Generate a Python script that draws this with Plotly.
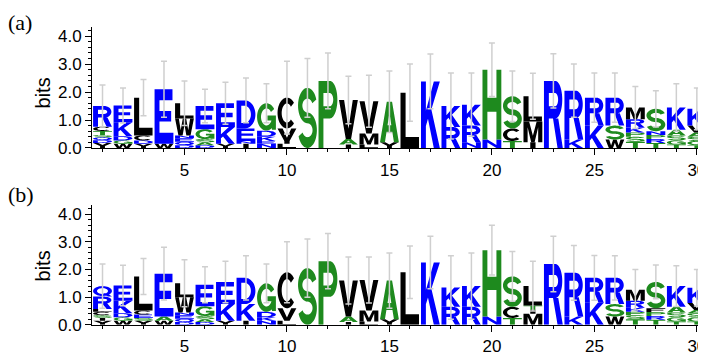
import numpy as np
import plotly.graph_objects as go

# ---------------- data ----------------
positions = list(range(1, 31))

letters_a = ["YDQSTCR", "WGDKE", "YDCL", "WE", "DQENWL", "DASGE", "YKE", "INED", "NEKDG", "LIVC",
             "S", "P", "IAV", "LMV", "YA", "L", "K", "RK", "NRK", "NH",
             "TCS", "IML", "R", "KR", "KR", "WSR", "TSPKRM", "TRPNS", "TGSAK", "TGSAVK"]
heights_a = [[.18, .1, .1, .08, .15, .15, .74], [.15, .12, .15, .5, .6], [.15, .12, .18, 1.35], [.15, 1.95],
             [.1, .12, .13, .1, .6, .55], [.1, .1, .12, .35, .83], [.15, .6, .85], [.15, .1, .45, 1.0],
             [.15, .1, .15, .22, .98], [.15, .1, .45, 1.1],
             [2.15], [2.4], [.12, .2, 1.4], [.12, .4, 1.15], [.2, 1.45], [1.98], [2.38], [.75, .75],
             [.2, .6, .75], [.3, 2.5],
             [.25, .45, 1.15], [.2, .75, .9], [2.4], [.3, 1.75], [.8, 1.0], [.3, .5, 1.0],
             [.22, .18, .15, .18, .3, .42], [.18, .14, .14, .14, .8], [.12, .15, .18, .2, .8],
             [.1, .15, .15, .15, .25, .6]]
errtop_a = [2.25, 2.15, 2.45, 3.1, 2.4, 2.1, 2.35, 2.5, 2.3, 3.1,
            3.2, 3.4, 2.57, 2.6, 2.75, 3.0, 3.36, 2.68, 2.68, 3.76,
            2.75, 2.67, 3.37, 3.0, 2.68, 2.68, 2.2, 2.05, 2.3, 2.15]

letters_b = ["YISCLRQ", "WGDKE", "YSECL", "WAE", "DQENWL", "DASGE", "YKE", "IKD", "NKDG", "LVC",
             "S", "P", "IAV", "LMV", "YA", "L", "K", "RK", "RK", "NH",
             "TCS", "MITL", "R", "KR", "KR", "WSR", "TSPKRM", "TRPFS", "TGSAK", "TGSAVK"]
heights_b = [[.15, .1, .1, .12, .1, .45, .38], [.15, .12, .15, .45, .55], [.15, .1, .12, .15, 1.23], [.15, .15, 1.55],
             [.1, .12, .13, .1, .55, .5], [.1, .1, .12, .35, .78], [.15, .6, .8], [.15, .6, .95],
             [.15, .12, .2, 1.03], [.15, .45, 1.3],
             [2.05], [2.3], [.1, .2, 1.3], [.12, .4, 1.1], [.2, 1.4], [1.9], [2.25], [.65, .7],
             [.65, .75], [.3, 2.4],
             [.25, .4, 1.1], [.4, .15, .15, .7], [2.2], [.3, 1.58], [.8, .9], [.3, .45, .95],
             [.2, .15, .12, .15, .25, .4], [.18, .14, .14, .14, .95], [.12, .15, .18, .2, .75],
             [.12, .15, .15, .12, .25, .55]]
errtop_b = [2.2, 2.15, 2.4, 2.8, 2.35, 2.1, 2.3, 2.5, 2.2, 3.0,
            3.1, 3.3, 2.45, 2.45, 2.6, 2.85, 3.2, 2.5, 2.6, 3.6,
            2.65, 2.3, 3.2, 2.87, 2.51, 2.5, 2.0, 2.16, 2.14, 2.0]

y_tick_vals = [0, 1, 2, 3, 4]
y_tick_text = ["0.0", "1.0", "2.0", "3.0", "4.0"]
x_tick_vals = [5, 10, 15, 20, 25, 30]

# ---------------- glyph outlines (unit box) ----------------
def arc(cx, cy, rx, ry, a0, a1, n=28):
    t = np.radians(np.linspace(a0, a1, n))
    return [(cx + rx * np.cos(u), cy + ry * np.sin(u)) for u in t]

def ring_arc(cx, cy, rxo, ryo, rxi, ryi, a0, a1, n=28):
    return arc(cx, cy, rxo, ryo, a0, a1, n) + arc(cx, cy, rxi, ryi, a1, a0, n)

def rect(x0, y0, x1, y1):
    return [(x0, y0), (x1, y0), (x1, y1), (x0, y1)]

def bowl(rx):
    outer = [(0, 0), (0, 1), (0.6, 1)] + arc(0.6, 0.72, rx, 0.28, 90, -90) + [(0.26, 0.44), (0.26, 0)]
    hole = [(0.26, 0.62), (0.26, 0.82), (0.58, 0.82)] + arc(0.58, 0.72, rx - 0.2, 0.10, 90, -90)
    return outer, hole

P_out, P_hole = bowl(0.4)
R_out, R_hole = bowl(0.37)

GLYPHS = {
    "A": [([(0, 0), (0.36, 1), (0.64, 1), (1, 0), (0.74, 0), (0.66, 0.24), (0.34, 0.24), (0.26, 0)], 0),
          ([(0.40, 0.42), (0.60, 0.42), (0.5, 0.74)], 1)],
    "C": [(ring_arc(0.5, 0.5, 0.5, 0.5, 0.28, 0.31, 42, 318, 40), 0)],
    "D": [([(0, 0), (0, 1), (0.45, 1)] + arc(0.45, 0.5, 0.55, 0.5, 90, -90), 0),
          ([(0.25, 0.19), (0.25, 0.81), (0.43, 0.81)] + arc(0.43, 0.5, 0.33, 0.31, 90, -90), 1)],
    "E": [([(0, 0), (0, 1), (0.95, 1), (0.95, 0.8), (0.26, 0.8), (0.26, 0.6), (0.88, 0.6), (0.88, 0.41),
            (0.26, 0.41), (0.26, 0.2), (1, 0.2), (1, 0)], 0)],
    "F": [([(0, 0), (0, 1), (1, 1), (1, 0.8), (0.26, 0.8), (0.26, 0.58), (0.9, 0.58), (0.9, 0.39),
            (0.26, 0.39), (0.26, 0)], 0)],
    "G": [(ring_arc(0.5, 0.5, 0.5, 0.5, 0.29, 0.31, 35, 355, 40), 0),
          (rect(0.55, 0.37, 1.0, 0.55), 0), (rect(0.79, 0.03, 1.0, 0.55), 0)],
    "H": [([(0, 0), (0, 1), (0.26, 1), (0.26, 0.6), (0.74, 0.6), (0.74, 1), (1, 1), (1, 0), (0.74, 0),
            (0.74, 0.4), (0.26, 0.4), (0.26, 0)], 0)],
    "I": [(rect(0.36, 0, 0.64, 1), 0)],
    "K": [([(0, 0), (0, 1), (0.26, 1), (0.26, 0.56), (0.68, 1), (1, 1), (0.55, 0.58), (1, 0), (0.68, 0),
            (0.37, 0.44), (0.26, 0.33), (0.26, 0)], 0)],
    "L": [([(0, 0), (0, 1), (0.27, 1), (0.27, 0.2), (0.98, 0.2), (0.98, 0)], 0)],
    "M": [([(0, 0), (0, 1), (0.3, 1), (0.5, 0.32), (0.7, 1), (1, 1), (1, 0), (0.78, 0), (0.78, 0.72),
            (0.59, 0), (0.41, 0), (0.22, 0.72), (0.22, 0)], 0)],
    "N": [([(0, 0), (0, 1), (0.26, 1), (0.74, 0.36), (0.74, 1), (1, 1), (1, 0), (0.74, 0), (0.26, 0.64),
            (0.26, 0)], 0)],
    "P": [(P_out, 0), (P_hole, 1)],
    "Q": [(arc(0.5, 0.53, 0.5, 0.47, 0, 360, 48), 0), (arc(0.5, 0.53, 0.29, 0.28, 0, 360, 48), 1),
          ([(0.52, 0.32), (0.74, 0.32), (1.0, 0.0), (0.78, 0.0)], 0)],
    "R": [(R_out, 0), (R_hole, 1), ([(0.48, 0.44), (0.76, 0.44), (1, 0), (0.72, 0)], 0)],
    "S": [(ring_arc(0.5, 0.705, 0.5, 0.295, 0.27, 0.115, 20, 278, 32), 0),
          (ring_arc(0.5, 0.295, 0.5, 0.295, 0.27, 0.115, 98, -160, 32), 0)],
    "T": [([(0.37, 0), (0.37, 0.8), (0, 0.8), (0, 1), (1, 1), (1, 0.8), (0.63, 0.8), (0.63, 0)], 0)],
    "V": [([(0, 1), (0.27, 1), (0.5, 0.26), (0.73, 1), (1, 1), (0.64, 0), (0.36, 0)], 0)],
    "W": [([(0, 1), (0.2, 1), (0.3, 0.3), (0.41, 1), (0.59, 1), (0.7, 0.3), (0.8, 1), (1, 1), (0.82, 0),
            (0.6, 0), (0.5, 0.62), (0.4, 0), (0.18, 0)], 0)],
    "Y": [([(0, 1), (0.28, 1), (0.5, 0.6), (0.72, 1), (1, 1), (0.63, 0.4), (0.63, 0), (0.37, 0),
            (0.37, 0.4)], 0)],
}

BLUE, GREEN, BLACK = "#0000ff", "#1e8a1e", "#000000"
COLORS = {}
for c in "RKDENQ":
    COLORS[c] = BLUE
for c in "SGHTAP":
    COLORS[c] = GREEN
for c in "YVMCLFIW":
    COLORS[c] = BLACK

def oriented(poly, hole):
    pts = np.array(poly, dtype=float)
    x, y = pts[:, 0], pts[:, 1]
    area = 0.5 * np.sum(x * np.roll(y, -1) - np.roll(x, -1) * y)
    if (area < 0 and not hole) or (area > 0 and hole):
        pts = pts[::-1]
    return pts

def glyph_path(ch, xc, w, y0, h):
    parts = []
    for poly, hole in GLYPHS[ch]:
        pts = oriented(poly, hole)
        coords = ["%.4f,%.5f" % (xc - w / 2 + px * w, y0 + py * h) for px, py in pts]
        parts.append("M" + "L".join(coords) + "Z")
    return "".join(parts)

# ---------------- figure ----------------
# the page body has an 8 px margin, so figure pixel = page pixel - 8
OFF = 8.0
W = 706.0
H = 356.0
def px_x(p):
    return (p - OFF) / W
def px_y(p):
    return 1 - (p - OFF) / H

xdom = [px_x(92.5), px_x(706)]
panels = [
    ("x", "y", letters_a, heights_a, errtop_a, [px_y(152), px_y(27.8)]),
    ("x2", "y2", letters_b, heights_b, errtop_b, [px_y(334), px_y(211)]),
]

fig = go.Figure()
shapes = []
for xr, yr, letters, heights, errtop, ydom in panels:
    totals = []
    for pos, lets, hs in zip(positions, letters, heights):
        y0 = 0.0
        for ch, hh in zip(lets, hs):
            shapes.append(dict(type="path", path=glyph_path(ch, pos, 0.92, y0, hh), xref=xr, yref=yr,
                               fillcolor=COLORS[ch], line=dict(width=0), layer="below",
                               fillrule="nonzero"))
            y0 += hh
        totals.append(y0)
    half = [max(t - s, 0) for t, s in zip(errtop, totals)]
    fig.add_trace(go.Scatter(x=positions, y=totals, xaxis=xr, yaxis=yr, mode="markers",
                             marker=dict(size=1, color="rgba(0,0,0,0)"),
                             error_y=dict(type="data", array=half, symmetric=True, color="#cfcfcf",
                                          thickness=1.5, width=3),
                             hoverinfo="skip", showlegend=False))

axis_font = dict(family="Liberation Sans", size=17, color="#000")
xcommon = dict(domain=xdom, range=[0.5, 30.35], showline=True, linecolor="#000", linewidth=1.4,
               ticks="outside", ticklen=6, tickwidth=1.4, tickcolor="#000",
               tickmode="array", tickvals=x_tick_vals, ticktext=[str(v) for v in x_tick_vals],
               minor=dict(tickmode="linear", dtick=1, tick0=0, ticks="outside", ticklen=3,
                          tickcolor="#000", tickwidth=1),
               ticklabeloverflow="allow",
               showgrid=False, zeroline=False, tickfont=axis_font, fixedrange=True)
ycommon = dict(range=[0, 4.32], showline=True, linecolor="#000", linewidth=1.4,
               ticks="outside", ticklen=6, tickwidth=1.4, tickcolor="#000",
               tickmode="array", tickvals=y_tick_vals, ticktext=y_tick_text,
               minor=dict(tickmode="linear", dtick=0.2, tick0=0, ticks="outside", ticklen=3,
                          tickcolor="#000", tickwidth=1),
               showgrid=False, zeroline=False, tickfont=axis_font, fixedrange=True)

label_font = dict(family="Liberation Serif", size=22, color="#000")
bits_font = dict(family="Liberation Sans", size=20, color="#000")
fig.update_layout(
    width=706, height=356, margin=dict(l=0, r=0, t=0, b=0),
    plot_bgcolor="white", paper_bgcolor="white", showlegend=False,
    xaxis=dict(anchor="y", **xcommon),
    yaxis=dict(anchor="x", domain=panels[0][5], **ycommon),
    xaxis2=dict(anchor="y2", **xcommon),
    yaxis2=dict(anchor="x2", domain=panels[1][5], **ycommon),
    shapes=shapes,
    annotations=[
        dict(text="(a)", x=px_x(6), y=px_y(8), xref="paper", yref="paper", xanchor="left", yanchor="top",
             showarrow=False, font=label_font),
        dict(text="(b)", x=px_x(6), y=px_y(185), xref="paper", yref="paper", xanchor="left", yanchor="top",
             showarrow=False, font=label_font),
        dict(text="bits", x=px_x(43), y=px_y(95), xref="paper", yref="paper", textangle=-90,
             xanchor="center", yanchor="middle", showarrow=False, font=bits_font),
        dict(text="bits", x=px_x(43), y=px_y(273), xref="paper", yref="paper", textangle=-90,
             xanchor="center", yanchor="middle", showarrow=False, font=bits_font),
    ],
)

fig.write_html("out.html")
